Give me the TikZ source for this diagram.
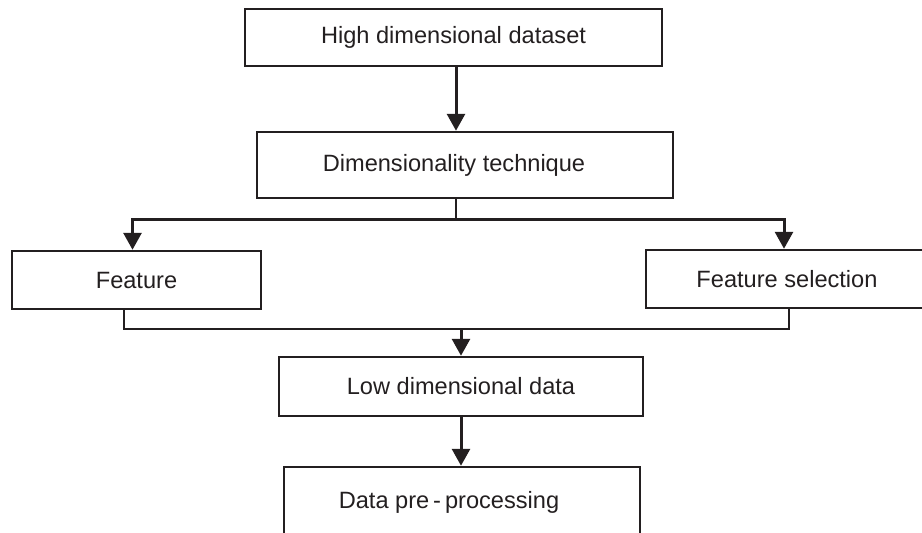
\documentclass[tikz,border=0pt]{standalone}
\usepackage{fontspec}
\setmainfont{Liberation Sans}
\usetikzlibrary{arrows.meta}
\definecolor{ink}{RGB}{35,31,32}
\begin{document}
\begin{tikzpicture}[x=1pt,y=-1pt,
  stage/.style={draw=ink, line width=2.5pt, inner sep=0pt, text=ink,
    font=\fontsize{23.6}{28}\selectfont},
  flow/.style={draw=ink, line width=3pt, -{Triangle[width=18pt,length=17pt]}},
  link/.style={draw=ink, line width=2.5pt}]
\useasboundingbox (0,0) rectangle (922,533);
% Boxes
\node[stage, minimum width=417pt, minimum height=57pt] (high) at (453.5,37.5) {High dimensional dataset};
\node[stage, minimum width=416pt, minimum height=66pt] (dim) at (465,165) {Dimensionality technique\hspace*{22pt}};
\node[stage, minimum width=249pt, minimum height=58pt] (feat) at (136.5,280) {Feature};
\node[stage, minimum width=282pt, minimum height=58pt] (fsel) at (787,279) {Feature selection};
\node[stage, minimum width=364pt, minimum height=59pt] (low) at (461,386.5) {Low dimensional data};
\node[stage, minimum width=356pt, minimum height=70pt] (data) at (462,502) {Data pre\,-\,processing\hspace*{26pt}};
% Fork into the two branches
\coordinate (fork) at (456,219);
\coordinate (merge) at (461,329);
\draw[flow] (high.south -| fork) -- (fork |- dim.north);
\draw[link] (fork |- dim.south) -- (fork);
\draw[flow] (fork) -| ([xshift=-4pt]feat.north);
\draw[flow] (fork) -| ([xshift=-3pt]fsel.north);
% Merge back
\draw[link] ([xshift=-12.5pt]feat.south) |- (merge);
\draw[link] ([xshift=2pt]fsel.south) |- (merge);
\draw[flow] (merge) -- (merge |- low.north);
\draw[flow] (low.south -| merge) -- (merge |- data.north);
\end{tikzpicture}
\end{document}
